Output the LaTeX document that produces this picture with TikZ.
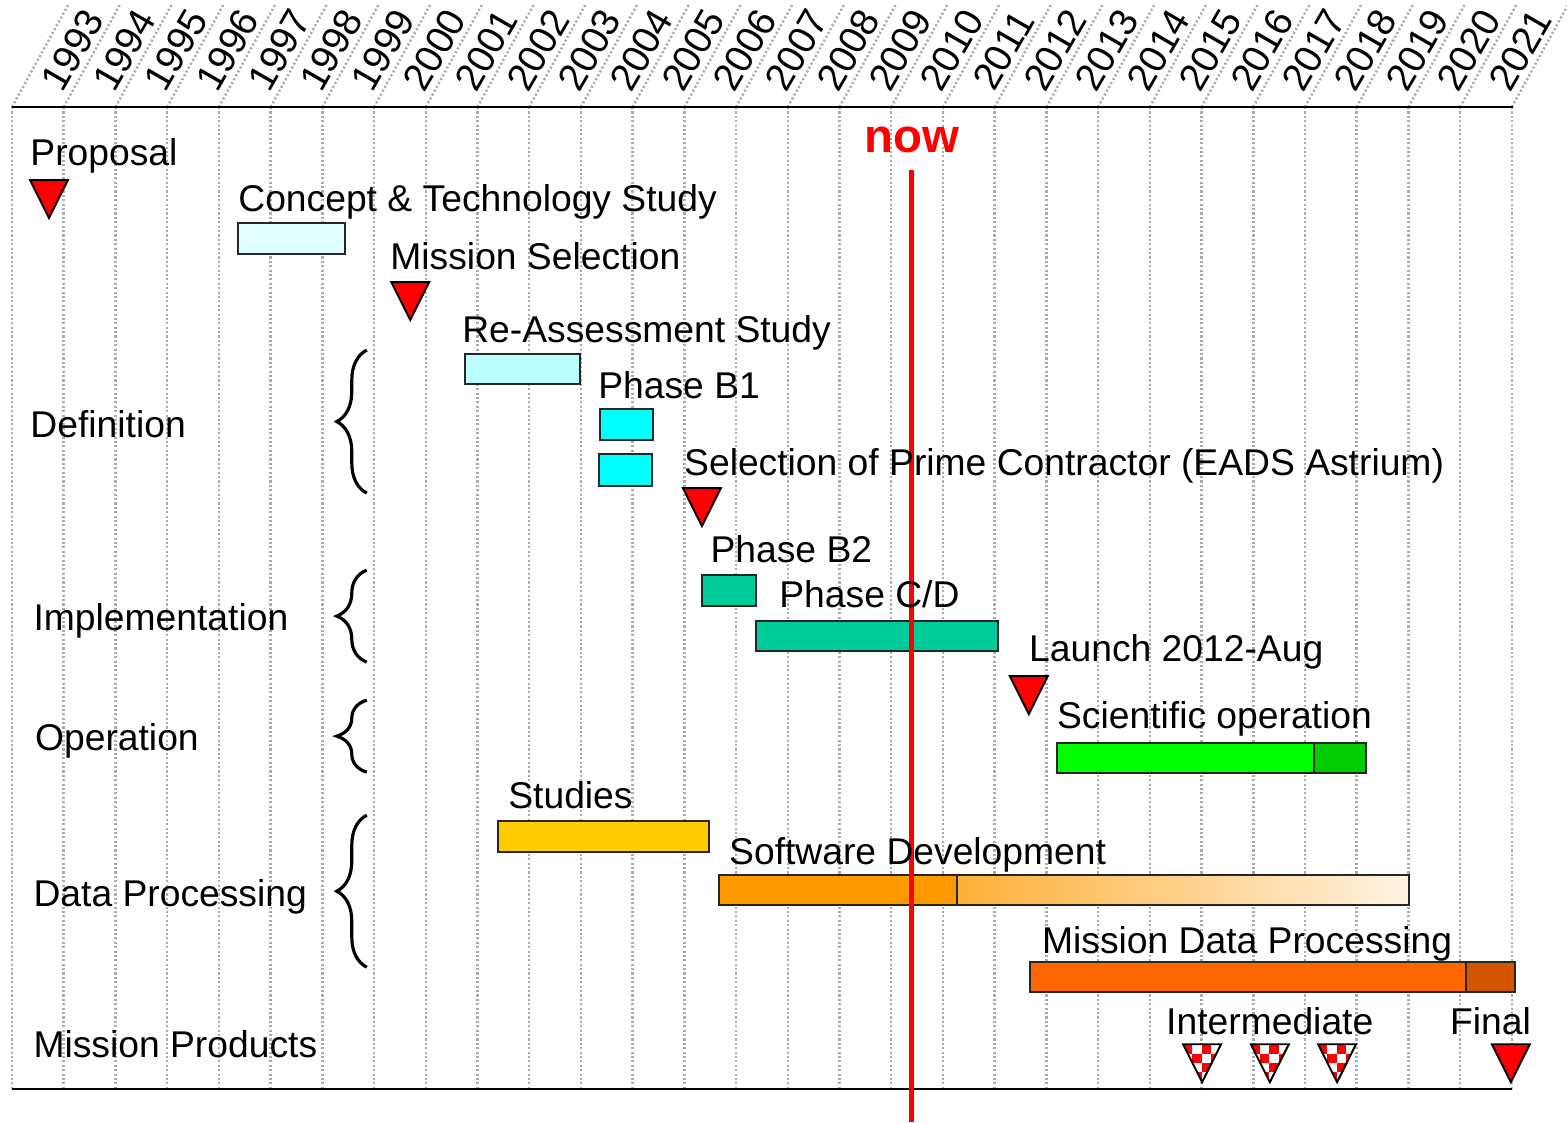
\documentclass[tikz,border=0pt]{standalone}
\usepackage{fontspec}
\setmainfont{Liberation Sans}
\usetikzlibrary{decorations.pathreplacing}
\definecolor{studyaqua}{HTML}{E0FFFF}
\definecolor{reaqua}{HTML}{BBFFFF}
\definecolor{phaseaqua}{HTML}{00FFFF}
\definecolor{phaseteal}{HTML}{00CC99}
\definecolor{opgreen}{HTML}{00FF00}
\definecolor{opdark}{HTML}{00CC00}
\definecolor{studyyellow}{HTML}{FFCC00}
\definecolor{swdev}{HTML}{FF9900}
\definecolor{swlight}{HTML}{FFB038}
\definecolor{swpale}{HTML}{FFF3E2}
\definecolor{mdp}{HTML}{FF6600}
\definecolor{mdpdark}{HTML}{D45500}
\begin{document}
\begin{tikzpicture}[x=1.0344cm,y=-0.02cm,font=\fontsize{21.2}{25}\selectfont,
	grid/.style={gray!65,line width=1.4pt,dash pattern=on 1.2pt off 1.3pt},
	bar/.style={draw=black!85,line width=1.1pt},
	lbl/.style={anchor=base west,inner sep=0pt},
	tri/.style={draw=black,line width=1.1pt,line join=miter},
	curly/.style={decorate,decoration={brace,amplitude=0.6cm},line width=1.8pt}]
	\useasboundingbox (-0.232,0) rectangle (30.066,1122);
	% year grid and slanted labels
	\foreach \k in {0,...,29}{
		\draw[grid] (\k,107) -- (\k,1089);
		\draw[grid] (\k,107) -- ++(1.083,-102);
	}
	\foreach \y [count=\k from 0] in {1993,...,2021}
		\node[rotate=60,font=\fontsize{22}{24}\selectfont] (y\y) at (\k+1.17,50) {\y};
	\draw[line width=1.4pt] (0,107) -- (29.02,107);
	\draw[line width=1.4pt] (0,1089) -- (29,1089);
	% bars
	\draw[bar,fill=studyaqua] (4.37,223) rectangle (6.44,254);
	\draw[bar,fill=reaqua] (8.76,354) rectangle (10.98,384);
	\draw[bar,fill=phaseaqua] (11.37,409) rectangle (12.39,440);
	\draw[bar,fill=phaseaqua] (11.35,454) rectangle (12.37,486);
	\draw[bar,fill=phaseteal] (13.34,575) rectangle (14.39,606);
	\draw[bar,fill=phaseteal] (14.39,621) rectangle (19.06,651);
	\draw[bar,fill=opgreen] (20.20,743) rectangle (25.17,773);
	\draw[bar,fill=opdark] (25.17,743) rectangle (26.18,773);
	\draw[bar,fill=studyyellow] (9.40,821) rectangle (13.48,852);
	\fill[swdev] (13.67,875) rectangle (18.27,905);
	\shade[left color=swlight,right color=swpale] (18.27,875) rectangle (27.01,905);
	\draw[bar] (13.67,875) rectangle (27.01,905) (18.27,875) -- (18.27,905);
	\draw[bar,fill=mdp] (19.68,962) rectangle (28.11,992);
	\draw[bar,fill=mdpdark] (28.11,962) rectangle (29.06,992);
	% milestones
	\foreach \c/\t in {0.715/180,7.70/282,13.34/488,19.66/676,28.98/1044}
		\draw[tri,fill=red] (\c-0.367,\t) -- (\c+0.367,\t) -- (\c,\t+38) -- cycle;
	\foreach \c in {23.01,24.32,25.62}{
		\begin{scope}
			\clip (\c-0.367,1044) -- (\c+0.367,1044) -- (\c,1082) -- cycle;
			\fill[white] (\c-0.367,1044) rectangle (\c+0.367,1082);
			\foreach \i in {0,...,4}
				\foreach \j in {0,...,4}{
					\pgfmathtruncatemacro\odd{mod(\i+\j,2)}
					\ifnum\odd=0
						\fill[red] (\c-0.367+\i*0.18,1044+\j*9.3) rectangle ++(0.18,9.3);
					\fi
				}
		\end{scope}
		\draw[tri] (\c-0.367,1044) -- (\c+0.367,1044) -- (\c,1082) -- cycle;
	}
	% braces
	\draw[curly] (6.86,493) -- (6.86,350);
	\draw[curly] (6.86,662) -- (6.86,570);
	\draw[curly] (6.86,772) -- (6.86,700);
	\draw[curly] (6.86,967) -- (6.86,815);
	% now
	\draw[red,line width=2.8pt] (17.40,170) -- (17.40,1122);
	\node[red,anchor=base,inner sep=0pt,font=\fontsize{27}{30}\selectfont\bfseries] (now) at (17.40,152) {now};
	% labels
	\node[lbl] (proposal) at (0.35,165) {Proposal};
	\node[lbl] (definition) at (0.35,437) {Definition};
	\node[lbl] (implementation) at (0.41,630) {Implementation};
	\node[lbl] (operation) at (0.44,750) {Operation};
	\node[lbl] (dataproc) at (0.41,906) {Data Processing};
	\node[lbl] (products) at (0.41,1057) {Mission Products};
	\node[lbl] (concept) at (4.37,211) {Concept \& Technology Study};
	\node[lbl] (missionsel) at (7.31,269) {Mission Selection};
	\node[lbl] (reassess) at (8.70,342) {Re-Assessment Study};
	\node[lbl] (phaseb1) at (11.33,398) {Phase B1};
	\node[lbl] (prime) at (12.99,475) {Selection of Prime Contractor (EADS Astrium)};
	\node[lbl] (phaseb2) at (13.50,562) {Phase B2};
	\node[lbl] (phasecd) at (14.83,607) {Phase C/D};
	\node[lbl] (launch) at (19.66,661) {Launch 2012-Aug};
	\node[lbl] (sciop) at (20.20,728) {Scientific operation};
	\node[lbl] (studies) at (9.59,808) {Studies};
	\node[lbl] (software) at (13.86,864) {Software Development};
	\node[lbl] (mdproc) at (19.91,953) {Mission Data Processing};
	\node[lbl] (interm) at (22.31,1034) {Intermediate};
	\node[lbl] (final) at (27.80,1034) {Final};
\end{tikzpicture}
\end{document}
